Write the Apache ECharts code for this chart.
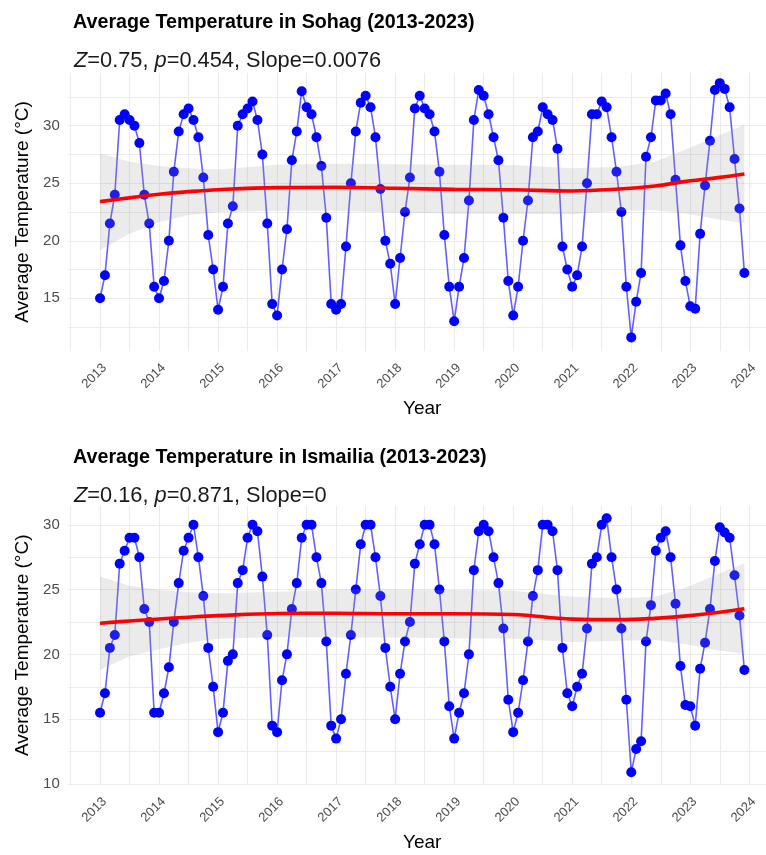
<!DOCTYPE html>
<html>
<head>
<meta charset="utf-8">
<script src="https://cdn.jsdelivr.net/npm/echarts@6/dist/echarts.min.js"></script>
<style>
html,body{margin:0;padding:0;background:#ffffff;}
#chart{width:766px;height:855px;}
</style>
</head>
<body>
<div id="chart"></div>
<script>
// ---------------- DATA ----------------
const years = [2013, 2014, 2015, 2016, 2017, 2018, 2019, 2020, 2021, 2022, 2023];
const months = [1, 2, 3, 4, 5, 6, 7, 8, 9, 10, 11, 12];

// Monthly average temperature, Sohag (rows = years, cols = months)
const sohagTemps = [
  [15.0, 17.0, 21.5, 24.0, 30.5, 31.0, 30.5, 30.0, 28.5, 24.0, 21.5, 16.0],
  [15.0, 16.5, 20.0, 26.0, 29.5, 31.0, 31.5, 30.5, 29.0, 25.5, 20.5, 17.5],
  [14.0, 16.0, 21.5, 23.0, 30.0, 31.0, 31.5, 32.1, 30.5, 27.5, 21.5, 14.5],
  [13.5, 17.5, 21.0, 27.0, 29.5, 33.0, 31.6, 31.0, 29.0, 26.5, 22.0, 14.5],
  [14.0, 14.5, 19.5, 25.0, 29.5, 32.0, 32.6, 31.6, 29.0, 24.5, 20.0, 18.0],
  [14.5, 18.5, 22.5, 25.5, 31.5, 32.6, 31.5, 31.0, 29.5, 26.0, 20.5, 16.0],
  [13.0, 16.0, 18.5, 23.5, 30.5, 33.1, 32.6, 31.0, 29.0, 27.0, 22.0, 16.5],
  [13.5, 16.0, 20.0, 23.5, 29.0, 29.5, 31.6, 31.0, 30.5, 28.0, 19.5, 17.5],
  [16.0, 17.0, 19.5, 25.0, 31.0, 31.0, 32.1, 31.6, 29.0, 26.0, 22.5, 16.0],
  [11.6, 14.7, 17.2, 27.3, 29.0, 32.2, 32.2, 32.8, 31.0, 25.3, 19.6, 16.5],
  [14.3, 14.1, 20.6, 24.8, 28.7, 33.1, 33.7, 33.2, 31.6, 27.1, 22.8, 17.2]
];

// Monthly average temperature, Ismailia
const ismailiaTemps = [
  [15.5, 17.0, 20.5, 21.5, 27.0, 28.0, 29.0, 29.0, 27.5, 23.5, 22.5, 15.5],
  [15.5, 17.0, 19.0, 22.5, 25.5, 28.0, 29.0, 30.0, 27.5, 24.5, 20.5, 17.5],
  [14.0, 15.5, 19.5, 20.0, 25.5, 26.5, 29.0, 30.0, 29.5, 26.0, 21.5, 14.5],
  [14.0, 18.0, 20.0, 23.5, 25.5, 29.0, 30.0, 30.0, 27.5, 25.5, 21.0, 14.5],
  [13.5, 15.0, 18.5, 21.5, 25.0, 28.5, 30.0, 30.0, 27.5, 24.5, 20.5, 17.5],
  [15.0, 18.5, 21.0, 22.5, 27.0, 28.5, 30.0, 30.0, 28.5, 25.0, 21.0, 16.0],
  [13.5, 15.5, 17.0, 20.0, 26.5, 29.5, 30.0, 29.5, 27.5, 25.5, 22.0, 16.5],
  [14.0, 15.5, 18.0, 21.0, 24.5, 26.5, 30.0, 30.0, 29.5, 26.5, 20.5, 17.0],
  [16.0, 17.5, 18.5, 22.0, 27.0, 27.5, 30.0, 30.5, 27.5, 25.0, 22.0, 16.5],
  [10.9, 12.7, 13.3, 21.0, 23.8, 28.0, 29.0, 29.5, 27.5, 23.9, 19.1, 16.1],
  [16.0, 14.5, 18.9, 20.9, 23.5, 27.2, 29.8, 29.4, 29.0, 26.1, 23.0, 18.8]
];

// Smoothed trend (LOESS) and its confidence band, read at these positions
const trendX = [2013, 2013.5, 2014, 2014.5, 2015, 2016, 2017, 2018, 2019, 2020, 2021, 2021.8, 2022.4, 2022.9, 2023.5, 2023.917];
const sohagFit   = [23.4, 23.73, 24.04, 24.27, 24.44, 24.62, 24.65, 24.56, 24.47, 24.43, 24.33, 24.5, 24.76, 25.14, 25.51, 25.8];
const sohagUpper = [27.6, 26.87, 26.5, 26.3, 26.2, 26.6, 26.7, 26.65, 26.6, 26.58, 26.3, 26.44, 26.87, 27.88, 29.19, 30.06];
const sohagLower = [19.2, 20.6, 21.6, 22.24, 22.5, 22.6, 22.6, 22.45, 22.35, 22.35, 22.3, 22.6, 22.65, 22.4, 21.83, 21.55];
const ismFit     = [22.4, 22.58, 22.73, 22.87, 22.99, 23.15, 23.17, 23.13, 23.14, 23.08, 22.72, 22.68, 22.78, 22.95, 23.25, 23.52];
const ismUpper   = [26.0, 25.3, 24.97, 24.8, 24.71, 24.84, 25.0, 25.0, 24.97, 24.9, 24.45, 24.33, 24.45, 25.1, 26.26, 27.03];
const ismLower   = [18.8, 19.85, 20.4, 20.9, 21.2, 21.35, 21.3, 21.3, 21.25, 21.2, 20.95, 21.05, 21.1, 20.8, 20.3, 20.03];

const titles = ['Average Temperature in Sohag (2013-2023)', 'Average Temperature in Ismailia (2013-2023)'];
const stats = [
  { Z: '0.75', p: '0.454', slope: '0.0076' },
  { Z: '0.16', p: '0.871', slope: '0' }
];
const xAxisTitle = 'Year';
const yAxisTitle = 'Average Temperature (°C)';

// ---------------- BUILD ----------------
const FONT = '"Liberation Sans", Arial, Helvetica, sans-serif';

function monthly(table) {
  const out = [];
  years.forEach((y, yi) => {
    months.forEach((m, mi) => {
      out.push([y + (m - 1) / 12, table[yi][mi]]);
    });
  });
  return out;
}

function pairs(xs, ys) { return xs.map((x, i) => [x, ys[i]]); }

function isMultiple(v, step) {
  const r = v / step;
  return Math.abs(r - Math.round(r)) < 1e-6;
}

const gridLine = { color: '#ebebeb', width: 1.1 };

function makeXAxis(gi) {
  return {
    type: 'value', gridIndex: gi,
    min: 2012.454, max: 2024.4625,
    minInterval: 0.5, maxInterval: 0.5,
    axisLine: { show: false }, axisTick: { show: false },
    splitLine: { show: true, showMinLine: false, showMaxLine: false, lineStyle: gridLine },
    axisLabel: {
      rotate: 45, fontSize: 13, color: '#4d4d4d', fontFamily: FONT, margin: 10,
      verticalAlign: 'top',
      formatter: v => isMultiple(v, 1) ? String(Math.round(v)) : '',
      showMinLabel: true, showMaxLabel: true
    },
    name: xAxisTitle, nameLocation: 'middle', nameGap: 48,
    nameTextStyle: { fontSize: 19, color: '#000', fontFamily: FONT }
  };
}

function makeYAxis(gi, min, max) {
  return {
    type: 'value', gridIndex: gi,
    min: min, max: max,
    minInterval: 2.5, maxInterval: 2.5,
    axisLine: { show: false }, axisTick: { show: false },
    splitLine: { show: true, showMinLine: false, showMaxLine: false, lineStyle: gridLine },
    axisLabel: {
      fontSize: 15, color: '#4d4d4d', fontFamily: FONT, margin: 8,
      formatter: v => isMultiple(v, 5) ? String(Math.round(v)) : ''
    },
    name: yAxisTitle, nameLocation: 'middle', nameRotate: 90, nameGap: 31,
    nameTextStyle: { fontSize: 19, color: '#000', fontFamily: FONT }
  };
}

function ribbon(gi, upper, lower) {
  return {
    type: 'custom', xAxisIndex: gi, yAxisIndex: gi, silent: true, z: 3,
    data: [[trendX[0], lower[0]]],
    renderItem: function (params, api) {
      const pts = [];
      for (let i = 0; i < trendX.length; i++) pts.push(api.coord([trendX[i], upper[i]]));
      for (let i = trendX.length - 1; i >= 0; i--) pts.push(api.coord([trendX[i], lower[i]]));
      return { type: 'polygon', shape: { points: pts, smooth: 0 }, style: { fill: 'rgba(153,153,153,0.2)' } };
    }
  };
}

function tempSeries(gi, table) {
  return {
    type: 'line', xAxisIndex: gi, yAxisIndex: gi, z: 2,
    data: monthly(table),
    symbol: 'circle', symbolSize: 10, showSymbol: true,
    itemStyle: { color: '#0000ff' },
    lineStyle: { color: 'rgba(0,0,255,0.62)', width: 1.6 },
    emphasis: { disabled: true }
  };
}

function trendSeries(gi, fit) {
  return {
    type: 'line', xAxisIndex: gi, yAxisIndex: gi, z: 4,
    data: pairs(trendX, fit), smooth: 0.4, showSymbol: false, symbol: 'none',
    lineStyle: { color: '#ff0000', width: 3.6 },
    emphasis: { disabled: true }
  };
}

function titleBlock(i, top) {
  const s = stats[i];
  return [
    { text: titles[i], left: 68, top: top,
      textStyle: { fontSize: 19.7, fontWeight: 'bold', color: '#000', fontFamily: FONT } },
    { text: '{i|Z}=' + s.Z + ', {i|p}=' + s.p + ', Slope=' + s.slope, left: 69, top: top + 37,
      textStyle: { fontSize: 21.8, fontWeight: 'normal', color: '#1a1a1a', fontFamily: FONT,
        rich: { i: { fontStyle: 'italic', fontWeight: 'normal', fontSize: 21.8, color: '#1a1a1a', fontFamily: FONT } } } }
  ];
}

const option = {
  animation: false,
  backgroundColor: '#ffffff',
  title: titleBlock(0, 8).concat(titleBlock(1, 443)),
  grid: [
    { left: 67.8, top: 72.8, width: 708.8, height: 278.4, containLabel: false, outerBoundsMode: 'none' },
    { left: 67.8, top: 505.6, width: 708.8, height: 279.4, containLabel: false, outerBoundsMode: 'none' }
  ],
  xAxis: [makeXAxis(0), makeXAxis(1)],
  yAxis: [makeYAxis(0, 10.4, 34.6), makeYAxis(1, 9.92, 31.48)],
  series: [
    tempSeries(0, sohagTemps), ribbon(0, sohagUpper, sohagLower), trendSeries(0, sohagFit),
    tempSeries(1, ismailiaTemps), ribbon(1, ismUpper, ismLower), trendSeries(1, ismFit)
  ]
};

const chart = echarts.init(document.getElementById('chart'), null, { renderer: 'canvas' });
chart.setOption(option);
</script>
</body>
</html>
